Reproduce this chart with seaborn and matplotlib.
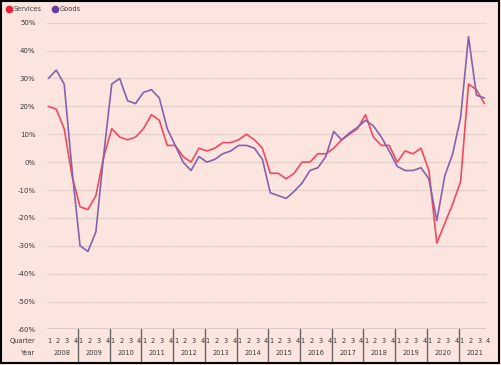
import numpy as np
import pandas as pd
import seaborn as sns
import matplotlib
matplotlib.use("Agg")
import matplotlib.pyplot as plt
from matplotlib.lines import Line2D
from matplotlib.patches import Rectangle

years = list(range(2008, 2022))
quarters = ["1", "2", "3", "4"]

services = [20, 19, 12, -5,
            -16, -17, -12, 2,
            12, 9, 8, 9,
            12, 17, 15, 6,
            6, 2, 0, 5,
            4, 5, 7, 7,
            8, 10, 8, 5,
            -4, -4, -6, -4,
            0, 0, 3, 3,
            5, 8, 10, 12,
            17, 9, 6, 6,
            0, 4, 3, 5,
            -3, -29, -22, -15,
            -7, 28, 26, 21]

goods = [30, 33, 28, -3,
         -30, -32, -25, 3,
         28, 30, 22, 21,
         25, 26, 23, 12,
         6, 0, -3, 2,
         0, 1, 3, 4,
         6, 6, 5, 1,
         -11, -12, -13, -10.5,
         -7.5, -3, -2, 2,
         11, 8, 10.5, 12.5,
         15, 13, 9, 4,
         -1.5, -3, -3, -2,
         -6, -21, -5, 3,
         16, 45, 24, 23]

yticks = list(range(-60, 51, 10))

n = len(services)
idx = np.arange(n)
df = pd.DataFrame({
    "i": np.concatenate([idx, idx]),
    "value": services + goods,
    "series": ["Services"] * n + ["Goods"] * n,
})

bg = "#fce4df"
red = "#f04a5e"
purple = "#8462ae"
text_c = "#3a3a3a"

sns.set_theme(style="white")
plt.rcParams["font.family"] = ["DejaVu Sans"]

fig = plt.figure(figsize=(5.01, 3.65), dpi=100, facecolor=bg)
ax = fig.add_axes([0.0944, 0.0973, 0.970 - 0.0944, 0.9378 - 0.0973])
ax.set_facecolor(bg)

for y in yticks:
    if y == -60:
        continue
    ax.axhline(y, color="#cdbbb7", lw=0.8, ls=(0, (1, 1)), zorder=0)
ax.axhline(-60, color="#555555", lw=1.0, zorder=1)

sns.lineplot(data=df, x="i", y="value", hue="series",
             palette={"Services": red, "Goods": purple},
             hue_order=["Services", "Goods"],
             lw=1.2, legend=False, ax=ax, clip_on=False)

ax.set_xlim(-0.13, n - 1 + 0.2)
ax.set_ylim(-60, 50)
ax.set_yticks(yticks)
ax.set_yticklabels([f"{v}%" for v in yticks], fontsize=5, color=text_c)
ax.tick_params(axis="y", length=0, pad=8.5)
ax.set_xticks([])
ax.set_xlabel("")
ax.set_ylabel("Year-on-year percentage change", fontsize=4.5, color=text_c, labelpad=10)
for s in ax.spines.values():
    s.set_visible(False)

trans = ax.get_xaxis_transform()
for k, yr in enumerate(years):
    for j, q in enumerate(quarters):
        ax.text(4 * k + j + 0.12 * j + 0.1, -0.0375, q, transform=trans, ha="center",
                va="center", fontsize=4.8, color=text_c)
    ax.text(4 * k + 1.75, -0.077, str(yr), transform=trans, ha="center",
            va="center", fontsize=4.8, color=text_c)
    if k > 0:
        ax.plot([4 * k - 0.25, 4 * k - 0.25], [0, -0.106], transform=trans,
                color="#666666", lw=1.0, clip_on=False)

ax.text(-0.028, -0.0375, "Quarter", transform=ax.transAxes, ha="right",
        va="center", fontsize=4.8, color=text_c)
ax.text(-0.028, -0.077, "Year", transform=ax.transAxes, ha="right",
        va="center", fontsize=4.8, color=text_c)

handles = [Line2D([], [], marker="o", ls="", color="#e8203c", markersize=4.5),
           Line2D([], [], marker="o", ls="", color="#6a3d9a", markersize=4.5)]
fig.legend(handles, ["Services", "Goods"], loc="upper left",
           bbox_to_anchor=(0.0, 1.0), ncol=2, frameon=False, fontsize=4.8,
           handletextpad=0.2, columnspacing=1.4, labelcolor=text_c,
           handlelength=1.0)

fig.patches.append(Rectangle((0.002, 0.006), 0.994, 0.99, transform=fig.transFigure,
                             fill=False, edgecolor="black", lw=1.5))

fig.savefig("out.png", dpi=100, facecolor=bg)
